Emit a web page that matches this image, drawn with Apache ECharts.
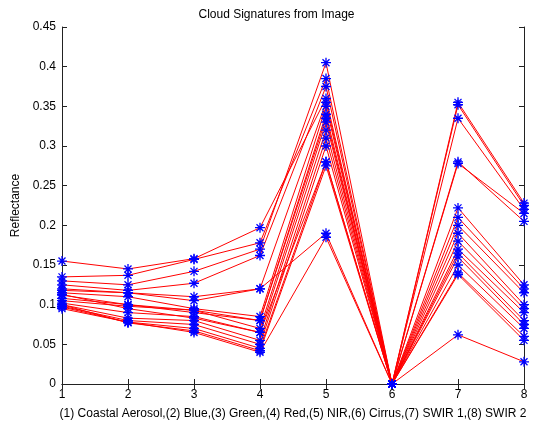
<!DOCTYPE html>
<html>
<head>
<meta charset="utf-8">
<script src="https://cdn.jsdelivr.net/npm/echarts@6/dist/echarts.min.js"></script>
<style>
  html, body { margin: 0; padding: 0; background: #fff; }
  #chart { width: 553px; height: 427px; }
</style>
</head>
<body>
<div id="chart"></div>
<script>
// Band numbers (x) and reflectance per cloud pixel (y)
const bands = [1, 2, 3, 4, 5, 6, 7, 8];
const bandLabel = '(1) Coastal Aerosol,(2) Blue,(3) Green,(4) Red,(5) NIR,(6) Cirrus,(7) SWIR 1,(8) SWIR 2';
const yTicks = [0, 0.05, 0.1, 0.15, 0.2, 0.25, 0.3, 0.35, 0.4, 0.45];

const sig01 = [0.155, 0.145, 0.158, 0.197, 0.360, 0, 0.355, 0.228];
const sig02 = [0.135, 0.137, 0.157, 0.178, 0.385, 0, 0.352, 0.225];
const sig03 = [0.130, 0.125, 0.142, 0.170, 0.405, 0, 0.335, 0.220];
const sig04 = [0.125, 0.118, 0.127, 0.162, 0.375, 0, 0.280, 0.205];
const sig05 = [0.118, 0.115, 0.110, 0.120, 0.190, 0, 0.062, 0.028];
const sig06 = [0.120, 0.115, 0.105, 0.120, 0.355, 0, 0.278, 0.215];
const sig07 = [0.115, 0.110, 0.095, 0.085, 0.350, 0, 0.222, 0.125];
const sig08 = [0.112, 0.100, 0.093, 0.080, 0.340, 0, 0.210, 0.120];
const sig09 = [0.108, 0.100, 0.090, 0.080, 0.335, 0, 0.200, 0.115];
const sig10 = [0.105, 0.098, 0.093, 0.070, 0.330, 0, 0.190, 0.100];
const sig11 = [0.102, 0.090, 0.085, 0.065, 0.320, 0, 0.180, 0.095];
const sig12 = [0.100, 0.083, 0.080, 0.055, 0.310, 0, 0.170, 0.090];
const sig13 = [0.098, 0.080, 0.075, 0.050, 0.300, 0, 0.165, 0.080];
const sig14 = [0.097, 0.078, 0.070, 0.045, 0.280, 0, 0.160, 0.075];
const sig15 = [0.100, 0.077, 0.067, 0.042, 0.275, 0, 0.140, 0.060];
const sig16 = [0.095, 0.078, 0.065, 0.040, 0.185, 0, 0.138, 0.055];
const sig17 = [0.113, 0.095, 0.083, 0.065, 0.280, 0, 0.150, 0.070];

const signatures = [sig01, sig02, sig03, sig04, sig05, sig06, sig07, sig08, sig09,
                    sig10, sig11, sig12, sig13, sig14, sig15, sig16, sig17];

// asterisk marker drawn as strokes
const asterisk = 'path://M0,-10L0,10M-10,0L10,0M-7,-7L7,7M-7,7L7,-7';

const FONT = 'Liberation Sans, Arial, sans-serif';
const fmt = v => String(+(+v).toFixed(2));

const series = signatures.map(sig => ({
  type: 'line',
  data: bands.map((b, i) => [b, sig[i]]),
  symbol: asterisk,
  symbolSize: 10,
  showAllSymbol: true,
  lineStyle: { color: '#ff0000', width: 1 },
  itemStyle: { color: 'rgba(0,0,0,0)', borderColor: '#0000ff', borderWidth: 1.3 },
  emphasis: { disabled: true },
  animation: false
}));

const axisCommon = {
  axisLine: { show: true, lineStyle: { color: '#222', width: 1 } },
  axisTick: { show: true, inside: true, length: 5, lineStyle: { color: '#222' } },
  splitLine: { show: false }
};

const chart = echarts.init(document.getElementById('chart'), null, { renderer: 'canvas' });
chart.setOption({
  backgroundColor: '#fff',
  animation: false,
  title: {
    text: 'Cloud Signatures from Image',
    left: 'center',
    top: 4,
    textStyle: { fontFamily: FONT, fontSize: 12, fontWeight: 'normal', color: '#000' }
  },
  grid: { left: 62, right: 29, top: 27, bottom: 43 },
  xAxis: [
    Object.assign({
      type: 'value', min: 1, max: 8, interval: 1, position: 'bottom',
      name: bandLabel, nameLocation: 'middle', nameGap: 24,
      nameTextStyle: { fontFamily: FONT, fontSize: 12, color: '#000' },
      axisLabel: { fontFamily: FONT, fontSize: 12, color: '#000', margin: 5 }
    }, axisCommon),
    Object.assign({
      type: 'value', min: 1, max: 8, interval: 1, position: 'top',
      axisLabel: { show: false }
    }, axisCommon)
  ],
  yAxis: [
    Object.assign({
      type: 'value', min: yTicks[0], max: yTicks[yTicks.length - 1], interval: 0.05, position: 'left',
      name: 'Reflectance', nameLocation: 'middle', nameGap: 37, nameRotate: 90,
      nameTextStyle: { fontFamily: FONT, fontSize: 12, color: '#000' },
      axisLabel: { fontFamily: FONT, fontSize: 12, color: '#000', margin: 6, formatter: fmt }
    }, axisCommon),
    Object.assign({
      type: 'value', min: yTicks[0], max: yTicks[yTicks.length - 1], interval: 0.05, position: 'right',
      axisLabel: { show: false }
    }, axisCommon)
  ],
  series: series
});
</script>
</body>
</html>
